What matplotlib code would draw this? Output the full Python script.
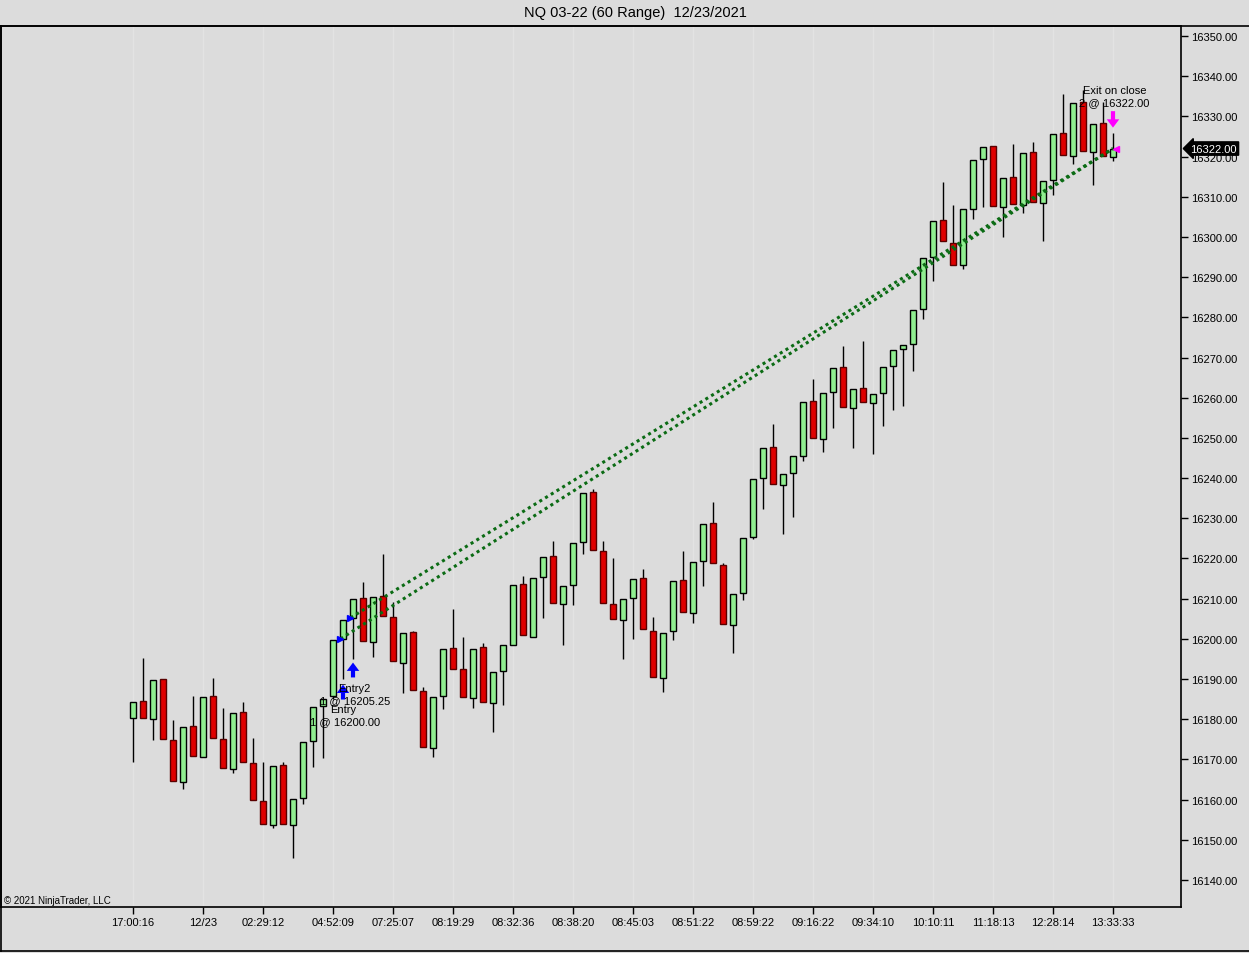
import matplotlib
matplotlib.use('Agg')
import matplotlib.pyplot as plt
import matplotlib.transforms as mtransforms
from matplotlib.lines import Line2D
from matplotlib.ticker import MultipleLocator
import numpy as np

# NQ 03-22, 60 tick range bars
opens = [16180.25, 16184.5, 16180, 16190, 16174.75, 16164.5, 16178.25, 16170.5, 16185.75, 16175,
         16167.5, 16181.75, 16169, 16159.75, 16153.75, 16168.5, 16153.75, 16160.5, 16174.5, 16183.25,
         16185.75, 16200, 16205.25, 16210.25, 16199.25, 16210.75, 16205.5, 16194, 16201.75, 16187,
         16172.75, 16185.75, 16197.75, 16192.5, 16185.25, 16198, 16184, 16192, 16198.5, 16213.75,
         16200.5, 16215.5, 16220.5, 16208.75, 16213.5, 16224, 16236.5, 16221.75, 16208.75, 16204.75,
         16210.25, 16215.25, 16202, 16190.25, 16202, 16214.75, 16206.5, 16219.25, 16228.75, 16218.5,
         16203.5, 16211.5, 16225.25, 16240, 16247.75, 16238.25, 16241.25, 16245.5, 16259.25, 16249.75,
         16261.5, 16267.75, 16257.5, 16262.5, 16258.75, 16261.25, 16268, 16272, 16273.25, 16282,
         16295, 16304.25, 16298.5, 16293, 16307, 16319.5, 16322.75, 16307.5, 16315, 16308,
         16321.25, 16308.5, 16314.25, 16325.75, 16320.25, 16333.5, 16321.25, 16328.25, 16320]
highs = [16184.25, 16195.25, 16189.75, 16190, 16179.75, 16178, 16185.75, 16185.5, 16190.25, 16182.75,
         16181.5, 16184.25, 16175.25, 16169.25, 16168.25, 16169.25, 16160.25, 16174.25, 16183, 16185,
         16199.75, 16204.75, 16210, 16214.25, 16210.5, 16221, 16209.25, 16201.5, 16202, 16188,
         16185.5, 16197.5, 16207.5, 16200.5, 16197.5, 16199, 16191.75, 16198.5, 16213.5, 16215.75,
         16215.25, 16220.25, 16224.25, 16213.25, 16223.75, 16236.25, 16237.25, 16224.25, 16220, 16210,
         16215, 16217.5, 16205.5, 16201.5, 16214.5, 16221.75, 16219, 16228.5, 16234, 16218.75,
         16211.25, 16225, 16239.75, 16247.5, 16253.5, 16241, 16245.5, 16259, 16264.75, 16261.25,
         16267.5, 16272.75, 16262.25, 16274, 16261, 16267.75, 16271.75, 16273, 16281.75, 16294.75,
         16304, 16313.75, 16308, 16307, 16319.25, 16322.5, 16322.75, 16314.75, 16323.25, 16321,
         16323.75, 16314, 16325.5, 16335.5, 16333.25, 16336.5, 16328, 16333.5, 16325.75]
lows = [16169.25, 16180.25, 16174.75, 16175, 16164.75, 16162.75, 16170.75, 16170.5, 16175.25, 16167.75,
        16166.5, 16169.25, 16160, 16154, 16153, 16154, 16145.5, 16159, 16168, 16170.25,
        16185, 16190, 16195, 16199.5, 16195.5, 16205.75, 16194.5, 16186.5, 16187.25, 16173,
        16170.5, 16182.5, 16192.5, 16185.5, 16182.75, 16184.25, 16176.75, 16183.5, 16198.5, 16201,
        16200.5, 16205.25, 16209, 16198.5, 16208.5, 16221, 16222, 16209, 16205, 16195,
        16200, 16202.5, 16190.5, 16186.75, 16199.75, 16206.75, 16204, 16213.25, 16218.75, 16203.75,
        16196.5, 16209.75, 16224.75, 16232.25, 16238.5, 16226, 16230.25, 16244.25, 16250, 16246.5,
        16252.5, 16257.75, 16247.5, 16259, 16246, 16253, 16257, 16258, 16266.75, 16279.5,
        16289, 16299, 16293, 16292, 16304.5, 16307.5, 16307.75, 16300, 16308.25, 16306,
        16308.75, 16299, 16310.5, 16320.5, 16318.25, 16321.5, 16313, 16320.25, 16319]
closes = [16184.25, 16180.25, 16189.75, 16175, 16164.75, 16178, 16170.75, 16185.5, 16175.25, 16167.75,
          16181.5, 16169.25, 16160, 16154, 16168.25, 16154, 16160.25, 16174.25, 16183, 16185,
          16199.75, 16204.75, 16210, 16199.5, 16210.5, 16205.75, 16194.5, 16201.5, 16187.25, 16173,
          16185.5, 16197.5, 16192.5, 16185.5, 16197.5, 16184.25, 16191.75, 16198.5, 16213.5, 16201,
          16215.25, 16220.25, 16209, 16213.25, 16223.75, 16236.25, 16222, 16209, 16205, 16210,
          16215, 16202.5, 16190.5, 16201.5, 16214.5, 16206.75, 16219, 16228.5, 16218.75, 16203.75,
          16211.25, 16225, 16239.75, 16247.5, 16238.5, 16241, 16245.5, 16259, 16250, 16261.25,
          16267.5, 16257.75, 16262.25, 16259, 16261, 16267.75, 16271.75, 16273, 16281.75, 16294.75,
          16304, 16299, 16293, 16307, 16319.25, 16322.5, 16307.75, 16314.75, 16308.25, 16321,
          16308.75, 16314, 16325.5, 16320.5, 16333.25, 16321.5, 16328, 16320.25, 16322]

tick_bars = [0, 7, 13, 20, 26, 32, 38, 44, 50, 56, 62, 68, 74, 80, 86, 92, 98]
tick_labels = ['17:00:16', '12/23', '02:29:12', '04:52:09', '07:25:07', '08:19:29', '08:32:36',
               '08:38:20', '08:45:03', '08:51:22', '08:59:22', '09:16:22', '09:34:10', '10:10:11',
               '11:18:13', '12:28:14', '13:33:33']

# trades
entry_bars = [21, 22]
entry_prices = [16200.00, 16205.25]
entry_names = ['Entry', 'Entry2']
exit_bar = 98
exit_price = 16322.00
last_price = 16322.00

W, H = 1249, 954
bg = '#dcdcdc'
fig = plt.figure(figsize=(W / 100, H / 100), dpi=100, facecolor=bg)
plt.rcParams['font.family'] = ['Liberation Sans', 'DejaVu Sans']

ax = fig.add_axes([1 / W, (H - 908) / H, 1180 / W, 881 / H])
ax.set_facecolor(bg)

o = np.array(opens)
c = np.array(closes)
hi = np.array(highs)
lo = np.array(lows)
x = np.arange(len(o))
up = c >= o

# grid
ax.yaxis.set_minor_locator(MultipleLocator(30))
ax.grid(axis='y', which='minor', color='#e3e3e3', lw=1, zorder=0)
ax.grid(axis='x', which='major', color='#e3e3e3', lw=1, zorder=0)

# wicks + bodies
ax.vlines(x, lo, hi, color='black', lw=1, zorder=2)
ax.bar(x[up], (c - o)[up], bottom=o[up], width=0.65, color='#90ee90',
       edgecolor='black', lw=1, zorder=3)
ax.bar(x[~up], (o - c)[~up], bottom=c[~up], width=0.65, color='#e00000',
       edgecolor='#5a0000', lw=1, zorder=3)

# trade lines
for eb, ep in zip(entry_bars, entry_prices):
    ax.plot([eb - 0.25, exit_bar], [ep, exit_price], ls=(0, (1, 1.2)), lw=2.2,
            color='#0b6b14', zorder=4)
    ax.plot(eb - 0.3, ep, marker='>', color='#0000ff', ms=5, zorder=5)

# entry arrows
arrow_kw = dict(width=3, headwidth=9, headlength=6, lw=0)
ax.annotate('', xy=(21, 16188.6), xytext=(21, 16184.9),
            arrowprops=dict(color='#0000ff', **arrow_kw), zorder=5)
ax.annotate('', xy=(22, 16194.1), xytext=(22, 16190.4),
            arrowprops=dict(color='#0000ff', **arrow_kw), zorder=5)
ax.text(20.5, 16187.8, entry_names[1], fontsize=8, va='center', ha='left', zorder=6)
ax.text(18.7, 16184.8, '1 @ %.2f' % entry_prices[1], fontsize=8, va='center', ha='left', zorder=6)
ax.text(19.7, 16182.5, entry_names[0], fontsize=8, va='center', ha='left', zorder=6)
ax.text(17.7, 16179.6, '1 @ %.2f' % entry_prices[0], fontsize=8, va='center', ha='left', zorder=6)

# exit
ax.annotate('', xy=(exit_bar, 16327.2), xytext=(exit_bar, 16331.3),
            arrowprops=dict(color='#ff00ff', **arrow_kw), zorder=5)
ax.plot(exit_bar + 0.3, exit_price, marker='<', color='#ff00ff', ms=5, zorder=5)
ax.text(95.0, 16336.6, 'Exit on close', fontsize=8, va='center', ha='left', zorder=6)
ax.text(94.6, 16333.6, '2 @ %.2f' % exit_price, fontsize=8, va='center', ha='left', zorder=6)

# axes
ax.set_xlim(-13.2, 104.8)
ax.set_ylim(16133.28, 16352.49)
ax.set_xticks(tick_bars)
ax.set_xticklabels(tick_labels)
ax.yaxis.set_major_locator(MultipleLocator(10))
ax.yaxis.set_major_formatter(matplotlib.ticker.FormatStrFormatter('%.2f'))
ax.yaxis.tick_right()
ax.tick_params(axis='y', which='major', length=5, width=1, pad=2, labelsize=8, colors='black')
ax.tick_params(axis='y', which='minor', length=0)
ax.tick_params(axis='x', length=5, width=1, pad=2, labelsize=8)
for s in ax.spines.values():
    s.set_color('black')
    s.set_linewidth(1.2)

# last price tag
trans = mtransforms.blended_transform_factory(ax.transAxes, ax.transData)
ax.text(1.008, last_price, '%.2f' % last_price, transform=trans, fontsize=8, color='white',
        va='center', ha='left', clip_on=False, zorder=7,
        bbox=dict(boxstyle='larrow,pad=0.15', fc='black', ec='black'))

ax.text(3 / 1180, 7 / 881, '© 2021 NinjaTrader, LLC',
        transform=ax.transAxes, fontsize=7, va='center', ha='left')

fig.text(635 / W, 1 - 13 / H, 'NQ 03-22 (60 Range)  12/23/2021', fontsize=10.5,
         ha='center', va='center')

# outer frame lines
fig.add_artist(Line2D([0, 1], [1 - 27 / H, 1 - 27 / H], color='black', lw=1.2, transform=fig.transFigure))
fig.add_artist(Line2D([0, 1], [2 / H, 2 / H], color='black', lw=1.2, transform=fig.transFigure))
fig.add_artist(Line2D([1 / W, 1 / W], [2 / H, 1 - 27 / H], color='black', lw=1.2, transform=fig.transFigure))

fig.savefig('out.png', dpi=100, facecolor=bg)
